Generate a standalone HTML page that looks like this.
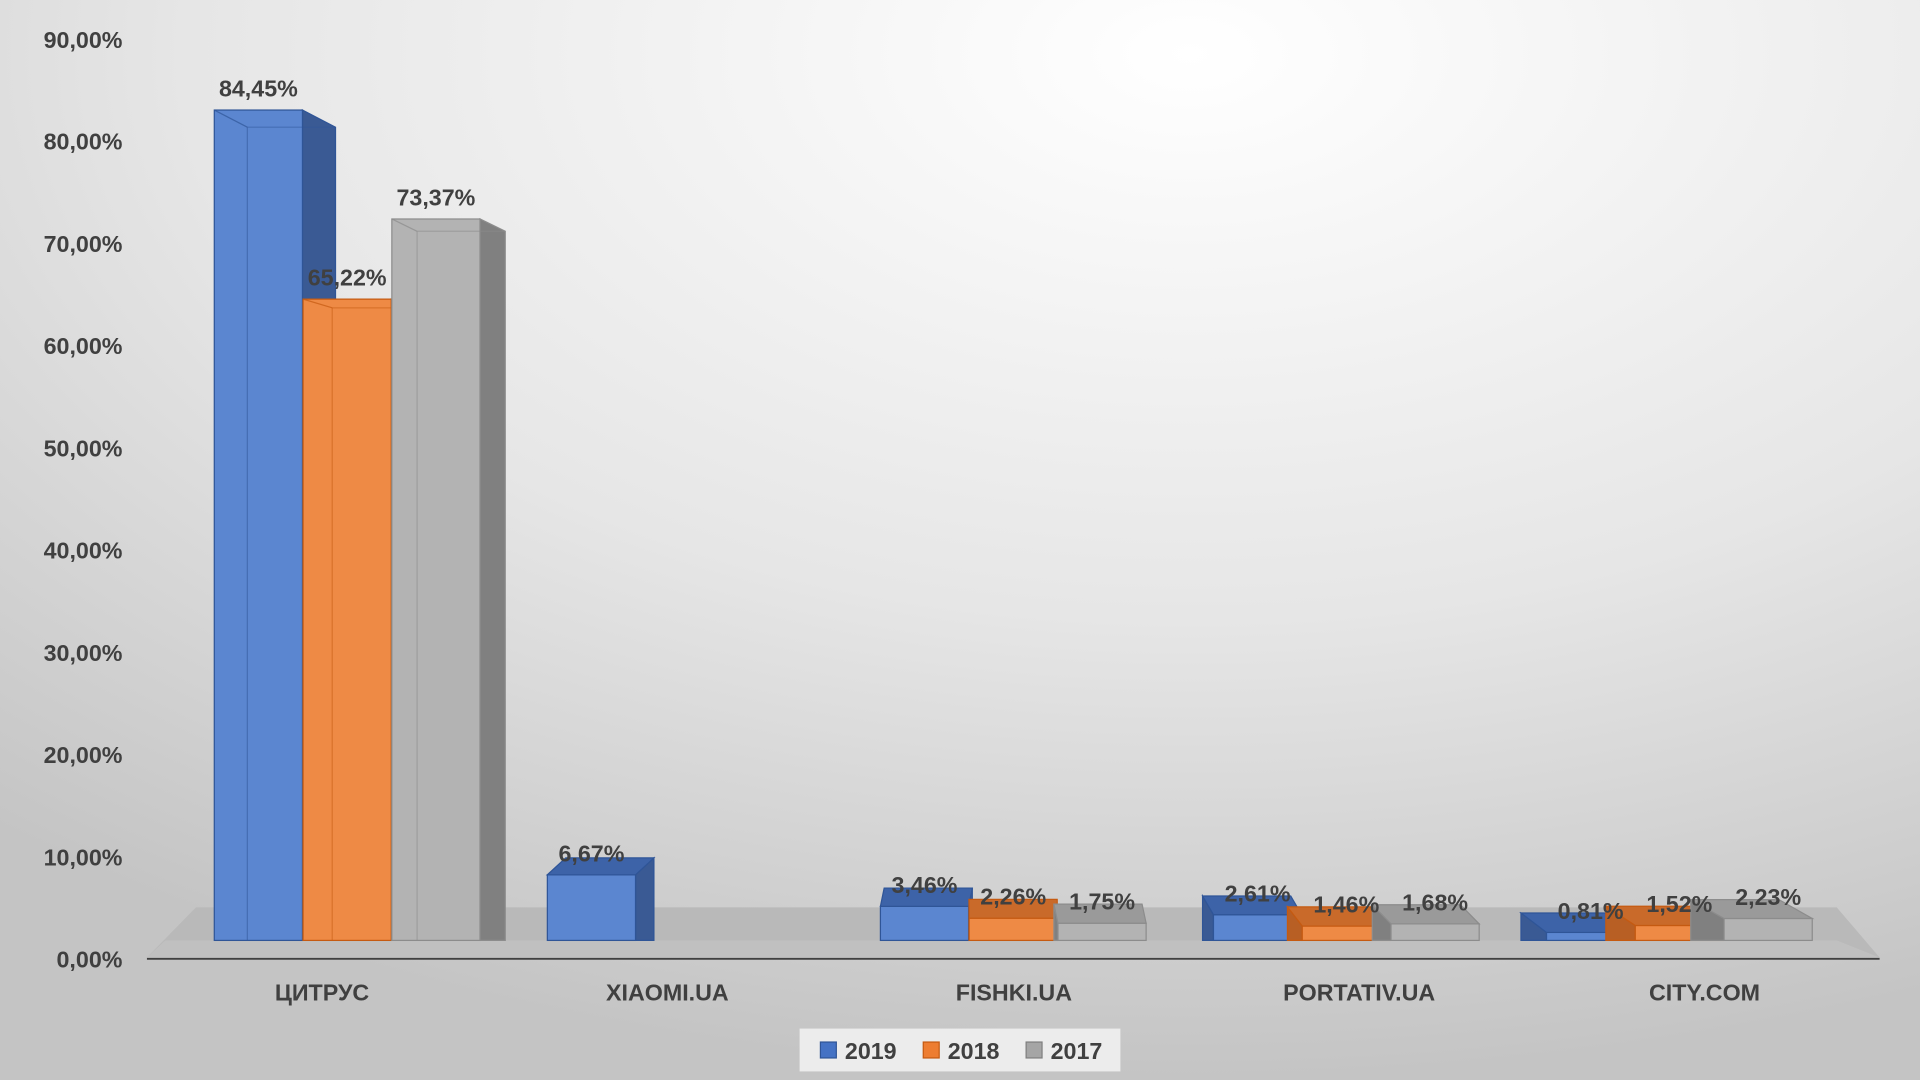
<!DOCTYPE html>
<html><head><meta charset="utf-8"><style>
html,body{margin:0;padding:0;width:1920px;height:1080px;overflow:hidden}
svg{display:block}
text{font-family:"Liberation Sans",sans-serif;font-weight:bold;fill:#404040}
</style></head><body>
<svg width="1920" height="1080" viewBox="0 0 1568 882" preserveAspectRatio="none">
<defs>
<radialGradient id="bg" cx="0.62" cy="0.05" r="0.95">
<stop offset="0" stop-color="#ffffff"/><stop offset="0.55" stop-color="#e6e6e6"/><stop offset="1" stop-color="#c4c4c4"/>
</radialGradient>
</defs>
<rect width="1568" height="882" fill="url(#bg)"/>
<polygon points="120,782 1535,782 1500,741 160,741" fill="#b9b9b9"/>
<polygon points="120,782 1535,782 1500,768 135,768" fill="#c8c8c8" opacity="0.5"/>
<line x1="120" y1="783" x2="1535" y2="783" stroke="#404040" stroke-width="1.5"/>
<g font-size="19" text-anchor="end">
<text x="100" y="790">0,00%</text>
<text x="100" y="707">10,00%</text>
<text x="100" y="623">20,00%</text>
<text x="100" y="540">30,00%</text>
<text x="100" y="456">40,00%</text>
<text x="100" y="373">50,00%</text>
<text x="100" y="289">60,00%</text>
<text x="100" y="206">70,00%</text>
<text x="100" y="122">80,00%</text>
<text x="100" y="39">90,00%</text>
</g>
<g id="bars"></g>
<g font-size="19" text-anchor="middle">
<text x="263" y="817">ЦИТРУС</text>
<text x="545" y="817">XIAOMI.UA</text>
<text x="828" y="817">FISHKI.UA</text>
<text x="1110" y="817">PORTATIV.UA</text>
<text x="1392" y="817">CITY.COM</text>
</g>
<rect x="653" y="840" width="262" height="35" fill="#ececec"/>
<rect x="670" y="851" width="13" height="13" fill="#4472c4" stroke="#2f5597"/>
<text x="690" y="865" font-size="19">2019</text>
<rect x="754" y="851" width="13" height="13" fill="#ed7d31" stroke="#c55a11"/>
<text x="774" y="865" font-size="19">2018</text>
<rect x="838" y="851" width="13" height="13" fill="#a5a5a5" stroke="#7f7f7f"/>
<text x="858" y="865" font-size="19">2017</text>
</svg>
<script>
var data=[[84.45,65.22,73.37],[6.67,null,null],[3.46,2.26,1.75],[2.61,1.46,1.68],[0.81,1.52,2.23]];
var labels=[["84,45%","65,22%","73,37%"],["6,67%","",""],["3,46%","2,26%","1,75%"],["2,61%","1,46%","1,68%"],["0,81%","1,52%","2,23%"]];
var cols=[["#5b86d0","#3d63a8","#3a5a94","#2f5597"],["#ee8a45","#c96a2a","#b85f24","#c55a11"],["#b3b3b3","#9a9a9a","#808080","#8c8c8c"]];
var g=document.getElementById('bars'),s='',lab='';
var base=768,k=8.03,w=72;
function P(a){return '<polygon points="'+a.map(function(p){return p[0]+','+p[1]}).join(' ')+'" ';}
for(var i=0;i<5;i++){for(var j=0;j<3;j++){var v=data[i][j];if(v==null)continue;
var x=175+i*272+j*72.5,t=base-v*k,c=cols[j];
var dy=14-29*(t-90)/651, dx=27-(x-175)*0.044;
// side face
if(dx>=0) s+=P([[x+w,t],[x+w+dx,t+dy],[x+w+dx,base],[x+w,base]])+'fill="'+c[2]+'" stroke="'+c[3]+'"/>';
else s+=P([[x,t],[x+dx,t+dy],[x+dx,base],[x,base]])+'fill="'+c[2]+'" stroke="'+c[3]+'"/>';
// front
s+='<rect x="'+x+'" y="'+t+'" width="'+w+'" height="'+(base-t)+'" fill="'+c[0]+'" stroke="'+c[3]+'"/>';
// top face
if(dy<0) s+=P([[x,t],[x+w,t],[x+w+dx,t+dy],[x+dx,t+dy]])+'fill="'+c[1]+'" stroke="'+c[3]+'"/>';
else { s+='<line x1="'+x+'" y1="'+t+'" x2="'+(x+dx)+'" y2="'+(t+dy)+'" stroke="'+c[3]+'" stroke-opacity="0.7"/>';
 s+='<line x1="'+(x+dx)+'" y1="'+(t+dy)+'" x2="'+(x+w+dx)+'" y2="'+(t+dy)+'" stroke="'+c[3]+'" stroke-opacity="0.5"/>';
 s+='<line x1="'+(x+dx)+'" y1="'+(t+dy)+'" x2="'+(x+dx)+'" y2="'+base+'" stroke="'+c[3]+'" stroke-opacity="0.5"/>';}
lab+='<text x="'+(x+w/2)+'" y="'+(t-11)+'" font-size="19" text-anchor="middle">'+labels[i][j]+'</text>';
}}
g.innerHTML=s+lab;
</script>
</body></html>
